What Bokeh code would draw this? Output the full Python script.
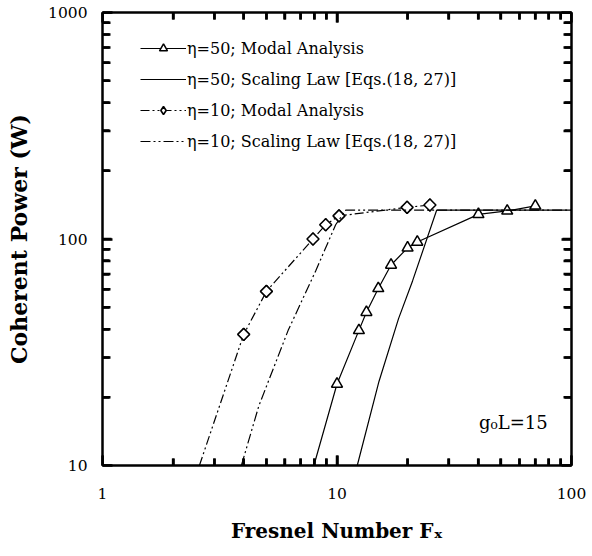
import math
from bokeh.plotting import figure
from bokeh.models import (LogAxis, FixedTicker, Legend, LegendItem, Label,
                          ColumnDataSource)
from bokeh.embed import file_html
from bokeh.resources import INLINE

# ---------------- data ----------------
# eta = 50, modal analysis (triangles)
eta50_modal_F = [10.0, 12.4, 13.35, 15.0, 17.0, 20.0, 22.0, 40.1, 53.2, 70.1]
eta50_modal_P = [22.9, 39.5, 47.5, 60.5, 76.8, 91.4, 97.0, 128.5, 133.0, 140.0]
# where the modal curve leaves the bottom axis
eta50_modal_start_F = [7.97]
eta50_modal_start_P = [10.0]

# eta = 50, scaling law
eta50_law_F = [12.2, 15.1, 18.3, 21.0, 26.6, 100.0]
eta50_law_P = [10.0, 23.5, 44.5, 65.3, 134.0, 134.0]

# eta = 10, modal analysis (diamonds)
eta10_modal_F = [4.0, 5.0, 7.9, 8.95, 10.2, 19.9, 24.9]
eta10_modal_P = [37.9, 58.7, 100.0, 115.6, 126.5, 138.0, 141.3]
eta10_modal_start_F = [2.59]
eta10_modal_start_P = [10.0]

# eta = 10, scaling law
eta10_law_F = [3.91, 4.64, 6.19, 8.11, 9.87, 10.9, 100.0]
eta10_law_P = [10.0, 18.3, 39.5, 72.3, 115.6, 134.0, 134.0]

x_major = [1, 10, 100]
y_major = [10, 100, 1000]
x_tick_labels = ["1", "10", "100"]
y_tick_labels = ["10", "100", "1000"]

legend_labels = [
    "\u03b7=50; Modal Analysis",
    "\u03b7=50; Scaling Law [Eqs.(18, 27)]",
    "\u03b7=10; Modal Analysis",
    "\u03b7=10; Scaling Law [Eqs.(18, 27)]",
]


def minors(majors):
    return [m * d for d in majors[:-1] for m in range(2, 10)]


FONT = "DejaVu Serif"

p = figure(width=590, height=550, x_axis_type="log", y_axis_type="log",
           x_range=(1, 100), y_range=(10, 1000),
           output_backend="svg", toolbar_location=None,
           min_border_left=102, min_border_right=19,
           min_border_top=12, min_border_bottom=85)
p.grid.visible = False
p.outline_line_color = "black"
p.outline_line_width = 2
p.background_fill_color = "white"
p.border_fill_color = "white"


def style_axis(ax, majors, labels=None):
    ax.ticker = FixedTicker(ticks=majors, minor_ticks=minors(majors))
    ax.axis_line_width = 2
    ax.axis_line_color = "black"
    ax.major_tick_in = 10
    ax.major_tick_out = 0
    ax.minor_tick_in = 7
    ax.minor_tick_out = 0
    ax.major_tick_line_width = 2.5
    ax.minor_tick_line_width = 2.5
    if labels is not None:
        ax.major_label_overrides = {m: t for m, t in zip(majors, labels)}
        ax.major_label_text_font = FONT
        ax.major_label_text_font_size = "15.5px"
        ax.major_label_text_color = "black"
        ax.axis_label_text_font = FONT
        ax.axis_label_text_font_style = "bold"
        ax.axis_label_text_color = "black"
    else:
        ax.major_label_text_font_size = "1px"
        ax.major_label_text_alpha = 0
        ax.major_label_standoff = 0


style_axis(p.xaxis[0], x_major, x_tick_labels)
style_axis(p.yaxis[0], y_major, y_tick_labels)
p.xaxis[0].axis_label = "Fresnel Number F\u2093"
p.yaxis[0].axis_label = "Coherent Power (W)"
p.xaxis[0].axis_label_text_font_size = "20px"
p.yaxis[0].axis_label_text_font_size = "22px"
p.xaxis[0].major_label_standoff = 22
p.xaxis[0].axis_label_standoff = 17
p.yaxis[0].major_label_standoff = 15
p.yaxis[0].axis_label_standoff = 13

top_ax = LogAxis()
right_ax = LogAxis()
style_axis(top_ax, x_major)
style_axis(right_ax, y_major)
p.add_layout(top_ax, "above")
p.add_layout(right_ax, "right")

# ---------------- inward tick marks on all four sides ----------------
X_DEC_PX = 234.5   # pixels per decade along x (frame width / 2)
Y_DEC_PX = 226.5   # pixels per decade along y (frame height / 2)


def fx(px):
    return 10 ** (px / X_DEC_PX)


def fy(px):
    return 10 ** (px / Y_DEC_PX)


tick_xs, tick_ys = [], []
for ticks, length in [(x_major, 10), (minors(x_major), 7)]:
    for t in ticks:
        tick_xs.append([t, t])
        tick_ys.append([y_major[0], y_major[0] * fy(length)])
        tick_xs.append([t, t])
        tick_ys.append([y_major[-1], y_major[-1] / fy(length)])
for ticks, length in [(y_major, 9), (minors(y_major), 8)]:
    for t in ticks:
        tick_xs.append([x_major[0], x_major[0] * fx(length)])
        tick_ys.append([t, t])
        tick_xs.append([x_major[-1], x_major[-1] / fx(length)])
        tick_ys.append([t, t])
p.multi_line(xs=tick_xs, ys=tick_ys, line_color="black", line_width=2.5)

# ---------------- curves ----------------
lw = 1.2
r50m_line = p.line(eta50_modal_start_F + eta50_modal_F,
                   eta50_modal_start_P + eta50_modal_P,
                   line_color="black", line_width=lw)
r50m_pts = p.scatter(eta50_modal_F, eta50_modal_P, marker="triangle", size=11,
                     fill_color="white", line_color="black", line_width=1.5)

r50l = p.line(eta50_law_F, eta50_law_P, line_color="black", line_width=lw)

r10m_line = p.line(eta10_modal_start_F + eta10_modal_F,
                   eta10_modal_start_P + eta10_modal_P,
                   line_color="black", line_width=lw, line_dash="9 3 2 3 2 3")
src10 = ColumnDataSource(data=dict(F=eta10_modal_F, P=eta10_modal_P))
# diamond symbol used for the legend key (hidden under the plotted symbols)
r10m_key = p.scatter("F", "P", source=src10, marker="diamond", size=12,
                     fill_color="white", line_color="black", line_width=1.6)
r10m_pts = p.scatter("F", "P", source=src10, marker="square", size=8.5,
                     angle=math.pi / 4,
                     fill_color="white", line_color="black", line_width=1.6)

r10l = p.line(eta10_law_F, eta10_law_P, line_color="black", line_width=lw,
              line_dash="10 3 2 3 2 3")

legend = Legend(items=[
    LegendItem(label=legend_labels[0], renderers=[r50m_line, r50m_pts]),
    LegendItem(label=legend_labels[1], renderers=[r50l]),
    LegendItem(label=legend_labels[2], renderers=[r10m_line, r10m_key]),
    LegendItem(label=legend_labels[3], renderers=[r10l]),
], location=(38, 314), glyph_width=46, glyph_height=20, label_height=20,
    spacing=11, padding=0, margin=0, label_standoff=1,
    background_fill_alpha=0, border_line_alpha=0,
    label_text_font=FONT, label_text_font_size="16px", label_text_color="black")
p.add_layout(legend)

p.add_layout(Label(x=40.3, y=15.5, text="g\u2080L=15", text_font=FONT,
                   text_font_size="18px", text_baseline="alphabetic",
                   text_align="left", text_color="black"))

open("out.html", "w").write(file_html(p, INLINE))
